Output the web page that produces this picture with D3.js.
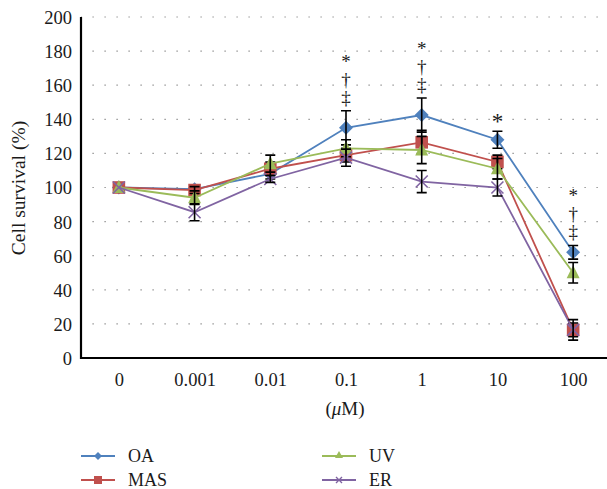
<!DOCTYPE html>
<html><head><meta charset="utf-8">
<script src="https://cdn.jsdelivr.net/npm/d3@7/dist/d3.min.js"></script>
<style>body{margin:0;background:#fff}svg{display:block}text{font-family:"Liberation Serif","DejaVu Serif",serif;fill:#1a1a1a}
.vsig{writing-mode:vertical-rl;text-orientation:upright;letter-spacing:-3px}</style>
</head><body><svg id="c" width="607" height="489"></svg>
<script>
const categories = ["0","0.001","0.01","0.1","1","10","100"];
const yTicks = [0,20,40,60,80,100,120,140,160,180,200];
const seriesNames = ["OA","MAS","UV","ER"];
const oaValues  = [100, 99, 108, 135, 142.5, 128, 62];
const masValues = [100, 98.5, 111, 119, 126.5, 115, 16.5];
const uvValues  = [100, 94, 114, 123, 122, 111, 50];
const erValues  = [100, 85.5, 105, 117.5, 103.5, 100, 16.5];
const oaErr  = [1.5, 2, 3, 10, 10, 5, 4];
const masErr = [1.5, 2, 4, 4, 7, 4, 4];
const uvErr  = [1.5, 4, 5, 5, 8, 6, 6];
const erErr  = [1, 5, 2, 5, 6.5, 5, 6];
const sigMarks = ["", "", "", "*†‡", "*†‡", "*", "*†‡"];
const colors = ["#4F81BD","#C0504D","#9BBB59","#8064A2"];

const svg = d3.select("#c");
const x = d3.scalePoint().domain(categories).range([81, 611]).padding(0.5);
const y = d3.scaleLinear().domain([0, 200]).range([358, 17]);

// gridlines
svg.append("g").selectAll("line").data(yTicks.filter(d=>d>0)).join("line")
  .attr("x1", 81).attr("x2", 607).attr("y1", d=>y(d)).attr("y2", d=>y(d))
  .attr("stroke", "#7f7f7f").attr("stroke-width", 1.2)
  .attr("stroke-dasharray", "1.2,10.8").attr("stroke-dashoffset", -11.5);

// y axis
const yAxis = svg.append("g").attr("transform","translate(81,0)")
  .call(d3.axisLeft(y).tickValues(yTicks).tickSize(0).tickPadding(9).tickFormat(d3.format("d")));
yAxis.select(".domain").attr("stroke","#000").attr("stroke-width",2.2).attr("d","M0,17V359");
yAxis.selectAll("text").style("font-size","18.5px").attr("fill","#1a1a1a").attr("dy","0.35em");

// x axis
const xAxis = svg.append("g").attr("transform","translate(0,358)")
  .call(d3.axisBottom(x).tickSize(0).tickPadding(15));
xAxis.select(".domain").attr("stroke","#000").attr("stroke-width",2.2).attr("d","M80,0H607");
xAxis.selectAll("text").style("font-size","18.5px").attr("fill","#1a1a1a");

// titles
svg.append("text").attr("transform","translate(25,188) rotate(-90)").attr("text-anchor","middle")
  .style("font-size","19.5px").text("Cell survival (%)");
const xt = svg.append("text").attr("x",345).attr("y",415).attr("text-anchor","middle").style("font-size","19px");
xt.append("tspan").text("(");
xt.append("tspan").style("font-style","italic").text("μ");
xt.append("tspan").text("M)");

const all = [oaValues, masValues, uvValues, erValues];
const errs = [oaErr, masErr, uvErr, erErr];

function marker(g, k, cx, cy, col) {
  if (k === 0) {
    const r = 7;
    g.append("path").attr("d", `M${cx},${cy-r}L${cx+r},${cy}L${cx},${cy+r}L${cx-r},${cy}Z`).attr("fill", col);
  } else if (k === 1) {
    const r = 6.3;
    g.append("rect").attr("x",cx-r).attr("y",cy-r).attr("width",2*r).attr("height",2*r).attr("fill",col);
  } else if (k === 2) {
    const r = 6.5;
    g.append("path").attr("d", `M${cx},${cy-r-1}L${cx+r},${cy+r-1}L${cx-r},${cy+r-1}Z`).attr("fill", col);
  } else {
    const r = 6;
    g.append("path").attr("d", `M${cx-r},${cy-r}L${cx+r},${cy+r}M${cx-r},${cy+r}L${cx+r},${cy-r}`)
      .attr("stroke", col).attr("stroke-width", 1.6).attr("fill","none");
  }
}

const line = d3.line().x((d,i)=>x(categories[i])).y(d=>y(d));
all.forEach((vals, k) => {
  const g = svg.append("g");
  g.append("path").attr("d", line(vals)).attr("fill","none").attr("stroke", colors[k]).attr("stroke-width", 1.8);
  vals.forEach((v, i) => {
    const cx = x(categories[i]);
    marker(g, k, cx, y(v), colors[k]);
  });
  vals.forEach((v, i) => {
    const cx = x(categories[i]), e = errs[k][i];
    if (i === 0) return;
    g.append("path").attr("d", `M${cx},${y(v+e)}V${y(v-e)}M${cx-5},${y(v+e)}H${cx+5}M${cx-5},${y(v-e)}H${cx+5}`)
      .attr("stroke","#000").attr("stroke-width",1.6).attr("fill","none");
  });
});

// significance marks: one vertical (stacked) text per category, above the top error cap
sigMarks.forEach((m, i) => {
  if (!m) return;
  const top = y(Math.max(...all.map((s,k)=>s[i]+errs[k][i])));
  const cx = x(categories[i]);
  if (m.length === 1) {
    svg.append("text").attr("x", cx).attr("y", top - 2).attr("text-anchor","middle")
      .style("font-size","23px").text(m);
  } else {
    svg.append("text").attr("class","vsig").attr("x", cx).attr("y", top - 60)
      .style("font-size","19px").text(m);
  }
});

// legend
const legendPos = [[81,456],[81,480],[322,456],[322,480]];
seriesNames.forEach((n, k) => {
  const [lx, ly] = legendPos[k];
  const g = svg.append("g");
  g.append("line").attr("x1",lx).attr("x2",lx+34).attr("y1",ly).attr("y2",ly).attr("stroke",colors[k]).attr("stroke-width",2.2);
  const cx = lx+17;
  if (k===0) g.append("path").attr("d",`M${cx},${ly-4}L${cx+4},${ly}L${cx},${ly+4}L${cx-4},${ly}Z`).attr("fill",colors[k]);
  if (k===1) g.append("rect").attr("x",cx-4).attr("y",ly-4).attr("width",8).attr("height",8).attr("fill",colors[k]);
  if (k===2) g.append("path").attr("d",`M${cx},${ly-5}L${cx+4},${ly+2}L${cx-4},${ly+2}Z`).attr("fill",colors[k]);
  if (k===3) g.append("path").attr("d",`M${cx-3},${ly-3}L${cx+3},${ly+3}M${cx-3},${ly+3}L${cx+3},${ly-3}`).attr("stroke",colors[k]).attr("stroke-width",1.4);
  g.append("text").attr("x",lx+47).attr("y",ly+6).style("font-size","18px").text(n);
});
</script></body></html>
